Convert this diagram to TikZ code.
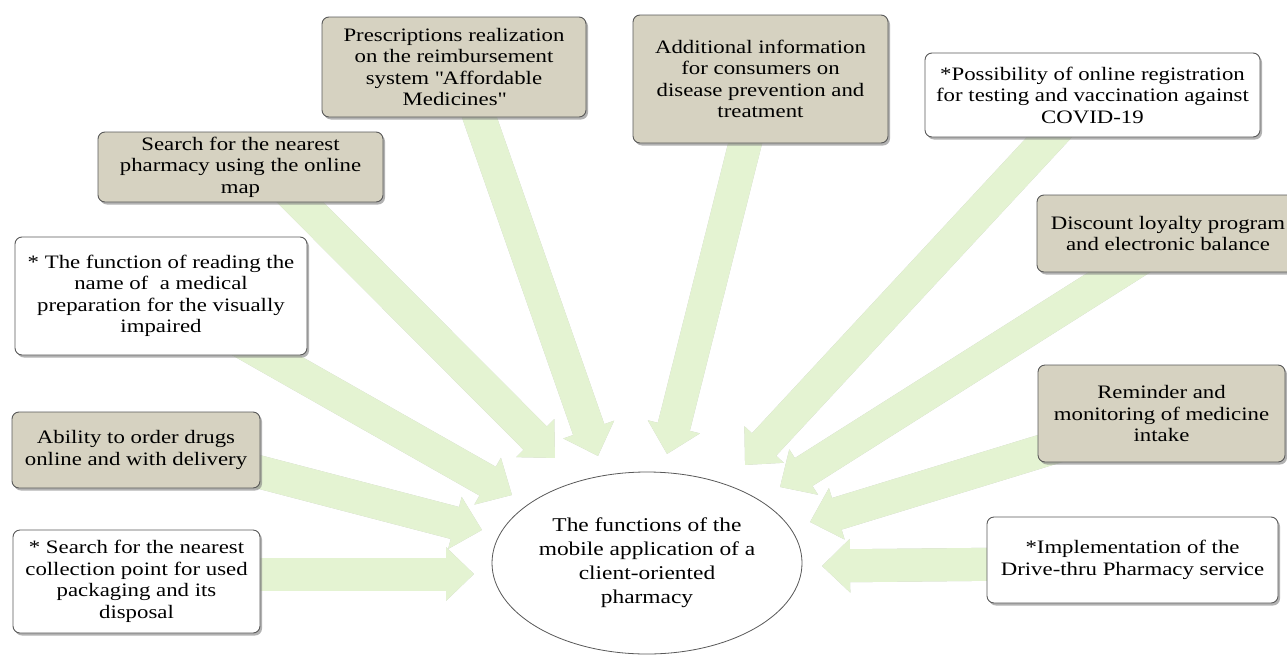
\documentclass[tikz,border=0pt]{standalone}
\usepackage{fontspec}
\setmainfont{Liberation Serif}[FakeStretch=1.2]
\usetikzlibrary{arrows.meta,shadows,calc,shapes.geometric}
\definecolor{tanc}{RGB}{214,210,193}
\definecolor{agreen}{RGB}{228,243,210}
\definecolor{ashadow}{RGB}{198,202,194}
\begin{document}
\begin{tikzpicture}[x=1pt,y=-1pt,
  box/.style={draw=black!65, rounded corners=7pt, line width=0.9pt, align=center,
    font=\fontsize{19}{21.5}\selectfont, inner sep=2pt,
    drop shadow={shadow xshift=2pt,shadow yshift=-2.5pt,fill=black!50,opacity=0.6}},
  tanbox/.style={box, fill=tanc},
  whitebox/.style={box, fill=white},
  fat/.style={line width=33pt, draw=agreen, -{Triangle[length=28pt,width=52pt]}},
  fatsh/.style={line width=33pt, draw=ashadow, -{Triangle[length=28pt,width=52pt]}, shift={(1.5,2)}},
  hub/.style={ellipse, draw=black!65, line width=0.8pt, fill=white, align=center,
    font=\fontsize{19.5}{24}\selectfont, minimum width=310pt, minimum height=182pt, inner sep=0pt}
]
\useasboundingbox (0,0) rectangle (1287,656);
\fill[white] (0,0) rectangle (1287,656);

% box positions (for arrow starts)
\coordinate (cpresc) at (454,67);
\coordinate (caddl) at (760.5,79);
\coordinate (ccovid) at (1092.5,95);
\coordinate (cdisc) at (1168,233.5);
\coordinate (cremind) at (1161.5,413.5);
\coordinate (cdrive) at (1132.5,560);
\coordinate (csearch) at (240.5,167);
\coordinate (creading) at (161,296);
\coordinate (cability) at (136,450);
\coordinate (ccollect) at (136.5,581.5);

% arrow tips
\coordinate (tA) at (598,456);
\coordinate (tB) at (555,458);
\coordinate (tC) at (512,495);
\coordinate (tD) at (482,530);
\coordinate (tE) at (474,574);
\coordinate (tF) at (667,454);
\coordinate (tG) at (745,465);
\coordinate (tH) at (780,487);
\coordinate (tI) at (810,522);
\coordinate (tJ) at (822,566);

% arrow starts (inside the boxes)
\coordinate (sA) at ($(cpresc)+(12,12)$);
\coordinate (sB) at ($(csearch)+(38.5,14)$);
\coordinate (sC) at ($(creading)+(69,39)$);
\coordinate (sD) at ($(cability)+(85,12)$);
\coordinate (sE) at ($(ccollect)+(93.5,-7.5)$);
\coordinate (sF) at ($(caddl)+(-5.5,25)$);
\coordinate (sG) at ($(ccovid)+(-22.5,20)$);
\coordinate (sH) at ($(cdisc)+(-23,22.5)$);
\coordinate (sI) at ($(cremind)+(-83.5,26.5)$);
\coordinate (sJ) at ($(cdrive)+(-112.5,4)$);

\foreach \s/\t in {sA/tA,sB/tB,sC/tC,sD/tD,sE/tE,sF/tF,sG/tG,sH/tH,sI/tI,sJ/tJ}{
  \draw[fatsh] (\s) -- (\t);
}
\foreach \s/\t in {sA/tA,sB/tB,sC/tC,sD/tD,sE/tE,sF/tF,sG/tG,sH/tH,sI/tI,sJ/tJ}{
  \draw[fat] (\s) -- (\t);
}

% boxes
\node[tanbox, minimum width=264pt, minimum height=100pt] (presc) at (cpresc)
  {Prescriptions realization\\on the reimbursement\\system \textquotedbl Affordable\\Medicines\textquotedbl};
\node[tanbox, minimum width=255pt, minimum height=128pt] (addl) at (caddl)
  {Additional information\\for consumers on\\disease prevention and\\treatment};
\node[whitebox, minimum width=335pt, minimum height=84pt] (covid) at (ccovid)
  {*Possibility of online registration\\for testing and vaccination against\\COVID-19};
\node[tanbox, minimum width=262pt, minimum height=77pt] (disc) at (cdisc)
  {Discount loyalty program\\and electronic balance};
\node[tanbox, minimum width=247pt, minimum height=97pt] (remind) at (cremind)
  {Reminder and\\monitoring of medicine\\intake};
\node[whitebox, minimum width=291pt, minimum height=86pt] (drive) at (cdrive)
  {*Implementation of the\\Drive-thru Pharmacy service};
\node[tanbox, minimum width=285pt, minimum height=70pt, inner sep=0pt] (search) at (csearch)
  {Search for the nearest\\pharmacy using the online\\map};
\node[whitebox, minimum width=292pt, minimum height=118pt] (reading) at (creading)
  {* The function of reading the\\name of \ a medical\\preparation for the visually\\impaired};
\node[tanbox, minimum width=248pt, minimum height=76pt] (ability) at (cability)
  {Ability to order drugs\\online and with delivery};
\node[whitebox, minimum width=247pt, minimum height=103pt] (collect) at (ccollect)
  {* Search for the nearest\\collection point for used\\packaging and its\\disposal};

\node[hub] (hub) at (647,563)
  {The functions of the\\mobile application of a\\client-oriented\\pharmacy};
\end{tikzpicture}
\end{document}
